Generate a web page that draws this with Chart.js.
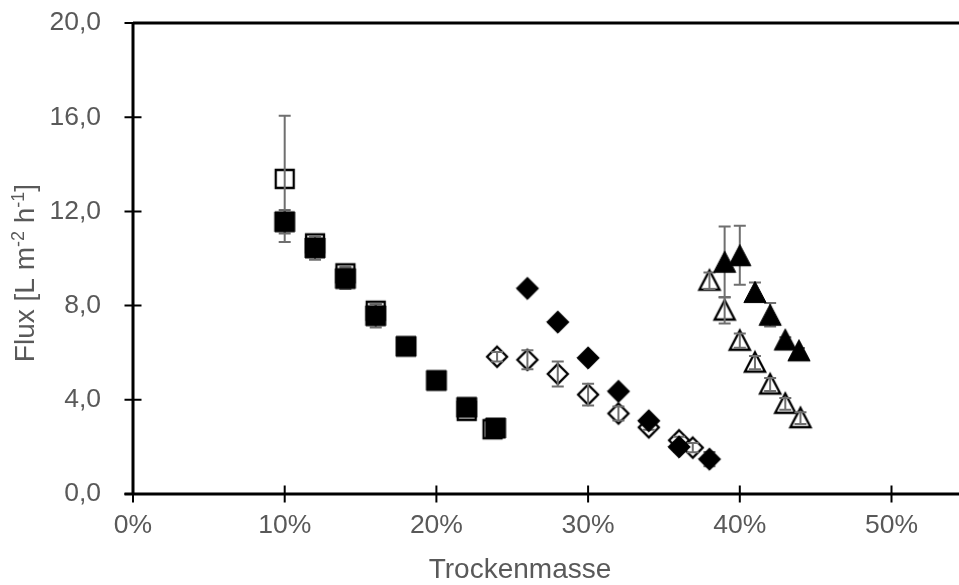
<!DOCTYPE html>
<html>
<head>
<meta charset="utf-8">
<script src="https://cdn.jsdelivr.net/npm/chart.js@4/dist/chart.umd.min.js"></script>
<style>
  html, body { margin: 0; padding: 0; background: #fff; overflow: hidden; }
  canvas { display: block; }
</style>
</head>
<body>
<canvas id="c" width="959" height="585" style="width:959px;height:585px"></canvas>
<script>
// ---------------- DATA ----------------
const xTicks = [0, 10, 20, 30, 40, 50];
const yTicks = [0, 4, 8, 12, 16, 20];
const xTitle = 'Trockenmasse';
const yTitleParts = [
  { t: 'Flux [L m', sup: false },
  { t: '-2', sup: true },
  { t: ' h', sup: false },
  { t: '-1', sup: true },
  { t: ']', sup: false }
];

// filled squares
const sqFillX = [10, 12, 14, 16, 18, 20, 22, 23.9];
const sqFillY = [11.56, 10.45, 9.15, 7.57, 6.27, 4.82, 3.68, 2.80];
const sqFillE = [0.5, 0.5, 0.45, 0.5, 0.1, 0.1, 0.1, 0.1];
// open squares
const sqOpenX = [10, 12, 14, 16, 22, 23.7];
const sqOpenY = [13.38, 10.64, 9.37, 7.78, 3.53, 2.75];
const sqOpenE = [2.68, 0.3, 0.3, 0.3, 0.15, 0.1];
// filled diamonds
const diFillX = [26, 28, 30, 32, 34, 36, 38];
const diFillY = [8.73, 7.30, 5.78, 4.36, 3.11, 2.00, 1.48];
const diFillE = [0.1, 0.1, 0.1, 0.1, 0.15, 0.2, 0.3];
// open diamonds
const diOpenX = [24, 26, 28, 30, 32, 34, 36, 36.9];
const diOpenY = [5.83, 5.70, 5.10, 4.22, 3.42, 2.83, 2.28, 1.97];
const diOpenE = [0.2, 0.4, 0.53, 0.46, 0.3, 0.1, 0.15, 0.2];
// filled triangles
const trFillX = [39, 40, 41, 42, 43, 43.9];
const trFillY = [9.86, 10.14, 8.58, 7.61, 6.56, 6.10];
const trFillE = [1.5, 1.25, 0.4, 0.5, 0.1, 0.1];
// open triangles
const trOpenX = [38, 39, 40, 41, 42, 43, 44];
const trOpenY = [9.06, 7.79, 6.51, 5.58, 4.65, 3.83, 3.22];
const trOpenE = [0.35, 0.55, 0.3, 0.28, 0.28, 0.25, 0.25];

// ---------------- STYLE ----------------
const FONT = '"Liberation Sans", Arial, sans-serif';
const TEXT = '#595959';
const ERR = '#6f6f6f';

function marker(shape, filled) {
  const s = 28, m = s / 2;
  const c = document.createElement('canvas');
  c.width = s; c.height = s;
  const g = c.getContext('2d');
  g.beginPath();
  if (shape === 'square') {
    const h = filled ? 10 : 9;
    g.rect(m - h, m - h, 2 * h, 2 * h);
  } else if (shape === 'diamond') {
    const h = filled ? 11.2 : 10;
    g.moveTo(m, m - h); g.lineTo(m + h, m); g.lineTo(m, m + h); g.lineTo(m - h, m); g.closePath();
  } else {
    const h = filled ? 10.6 : 9.6;
    const off = filled ? 0 : 0.6;
    g.moveTo(m, m - h - off); g.lineTo(m + h + 0.5, m + h - off); g.lineTo(m - h - 0.5, m + h - off); g.closePath();
  }
  g.fillStyle = filled ? '#000' : '#fff';
  g.fill();
  g.lineJoin = 'miter';
  g.lineWidth = filled ? 1 : 2.3;
  g.strokeStyle = '#000';
  g.stroke();
  return c;
}

function pts(xs, ys) { return xs.map((x, i) => ({ x: x, y: ys[i] })); }
function ds(xs, ys, es, shape, filled) {
  return {
    data: pts(xs, ys),
    errs: es,
    open: !filled,
    pointStyle: marker(shape, filled),
    pointRadius: 11,
    pointHoverRadius: 11,
    showLine: false,
    backgroundColor: filled ? '#000' : '#fff',
    borderColor: '#000'
  };
}

// index 0 is drawn on top in Chart.js
const datasets = [
  ds(sqFillX, sqFillY, sqFillE, 'square', true),
  ds(diFillX, diFillY, diFillE, 'diamond', true),
  ds(trFillX, trFillY, trFillE, 'triangle', true),
  ds(sqOpenX, sqOpenY, sqOpenE, 'square', false),
  ds(diOpenX, diOpenY, diOpenE, 'diamond', false),
  ds(trOpenX, trOpenY, trOpenE, 'triangle', false)
];

function drawErr(chart, index) {
  const d = chart.data.datasets[index];
  const xs = chart.scales.x, ys = chart.scales.y, ctx = chart.ctx;
  ctx.save();
  ctx.strokeStyle = ERR;
  ctx.lineWidth = 2;
  d.data.forEach((p, i) => {
    const e = d.errs[i];
    const px = xs.getPixelForValue(p.x);
    const top = ys.getPixelForValue(p.y + e);
    const bot = ys.getPixelForValue(p.y - e);
    ctx.beginPath();
    ctx.moveTo(px, top); ctx.lineTo(px, bot);
    ctx.moveTo(px - 6, top); ctx.lineTo(px + 6, top);
    ctx.moveTo(px - 6, bot); ctx.lineTo(px + 6, bot);
    ctx.stroke();
  });
  ctx.restore();
}

const errPlugin = {
  id: 'errbars',
  beforeDatasetDraw(chart, args) { if (!chart.data.datasets[args.index].open) drawErr(chart, args.index); },
  afterDatasetDraw(chart, args) { if (chart.data.datasets[args.index].open) drawErr(chart, args.index); }
};

const axesPlugin = {
  id: 'axesbox',
  beforeDatasetsDraw(chart) {
    const ctx = chart.ctx, xs = chart.scales.x, ys = chart.scales.y;
    const L = xs.getPixelForValue(0);
    const B = ys.getPixelForValue(0);
    const T = ys.getPixelForValue(yTicks[yTicks.length - 1]);
    const R = chart.width;
    ctx.save();
    ctx.strokeStyle = '#000';
    ctx.lineWidth = 3;
    ctx.beginPath();
    ctx.moveTo(L, T); ctx.lineTo(L, B);
    ctx.moveTo(L - 8.5, B); ctx.lineTo(R, B);
    ctx.moveTo(L, T); ctx.lineTo(R, T);
    ctx.stroke();
    ctx.lineWidth = 2;
    ctx.beginPath();
    yTicks.forEach(v => { const p = ys.getPixelForValue(v); ctx.moveTo(L - 8.5, p); ctx.lineTo(L + 8.5, p); });
    xTicks.forEach(v => { const p = xs.getPixelForValue(v); ctx.moveTo(p, B - 8.5); ctx.lineTo(p, B + 8.5); });
    ctx.stroke();
    ctx.restore();
  },
  afterDraw(chart) {
    const ctx = chart.ctx;
    ctx.save();
    ctx.fillStyle = TEXT;
    ctx.font = '28px ' + FONT;
    ctx.textAlign = 'center';
    ctx.textBaseline = 'alphabetic';
    ctx.fillText(xTitle, 520, 578);
    // rotated y title with superscripts
    let total = 0;
    yTitleParts.forEach(p => { ctx.font = (p.sup ? '18px ' : '28px ') + FONT; total += ctx.measureText(p.t).width; });
    ctx.translate(34, 273 + total / 2);
    ctx.rotate(-Math.PI / 2);
    ctx.textAlign = 'left';
    let pos = 0;
    yTitleParts.forEach(p => {
      ctx.font = (p.sup ? '18px ' : '28px ') + FONT;
      ctx.fillText(p.t, pos, p.sup ? -10 : 0);
      pos += ctx.measureText(p.t).width;
    });
    ctx.restore();
  }
};

const xMax = (959 - 133) / 15.17;

new Chart(document.getElementById('c').getContext('2d'), {
  type: 'scatter',
  data: { datasets: datasets },
  options: {
    responsive: false,
    animation: false,
    devicePixelRatio: 1,
    layout: { autoPadding: false, padding: { top: 23, left: 0, right: 0, bottom: 0 } },
    plugins: { legend: { display: false }, tooltip: { enabled: false } },
    scales: {
      x: {
        type: 'linear',
        min: 0,
        max: xMax,
        afterFit(s) { s.height = 91; s.paddingLeft = 0; s.paddingRight = 0; },
        afterBuildTicks(s) { s.ticks = xTicks.map(v => ({ value: v })); },
        grid: { display: false, drawTicks: false, tickLength: 0 },
        border: { display: false },
        ticks: {
          padding: 16,
          color: TEXT,
          font: { family: FONT, size: 26.5 },
          maxRotation: 0,
          autoSkip: false,
          callback: v => v + '%'
        }
      },
      y: {
        type: 'linear',
        min: 0,
        max: 20,
        afterFit(s) { s.width = 133; s.paddingTop = 0; s.paddingBottom = 0; },
        afterBuildTicks(s) { s.ticks = yTicks.map(v => ({ value: v })); },
        grid: { display: false, drawTicks: false, tickLength: 0 },
        border: { display: false },
        ticks: {
          padding: 32,
          color: TEXT,
          font: { family: FONT, size: 26.5 },
          autoSkip: false,
          callback: v => Number(v).toFixed(1).replace('.', ',')
        }
      }
    }
  },
  plugins: [axesPlugin, errPlugin]
});
</script>
</body>
</html>
